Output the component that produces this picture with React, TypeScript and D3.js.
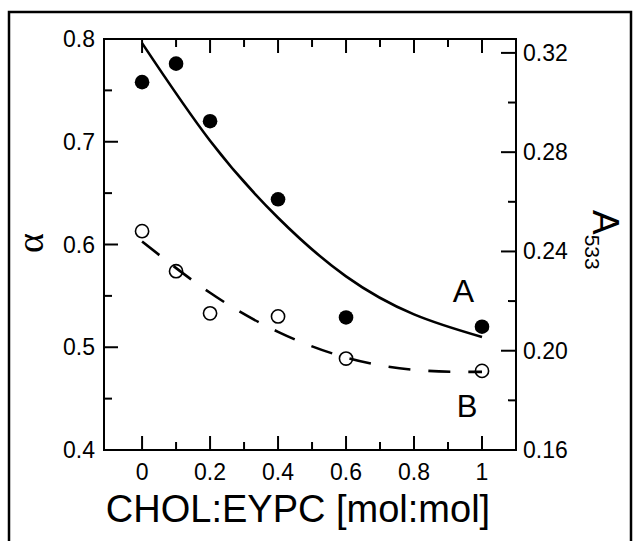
import React from "react";
import * as d3 from "d3";

// Measured data (CHOL:EYPC mol ratio)
const xValues = [0, 0.1, 0.2, 0.4, 0.6, 1.0];
const alphaA = [0.758, 0.776, 0.72, 0.644, 0.529, 0.52];
const alphaB = [0.613, 0.574, 0.533, 0.53, 0.489, 0.477];

// Fitted curves
const fitX = [0, 0.2, 0.4, 0.6, 0.8, 1.0];
const fitA = [0.796, 0.701, 0.626, 0.569, 0.532, 0.51];
const fitB = [0.603, 0.553, 0.515, 0.49, 0.478, 0.476];

const xTicksMajor = [0, 0.2, 0.4, 0.6, 0.8, 1];
const xTickLabels = ["0", "0.2", "0.4", "0.6", "0.8", "1"];
const xTicksMinor = [0.1, 0.3, 0.5, 0.7, 0.9];
const yLeftMajor = [0.4, 0.5, 0.6, 0.7, 0.8];
const yLeftLabels = ["0.4", "0.5", "0.6", "0.7", "0.8"];
const yLeftMinor = [0.45, 0.55, 0.65, 0.75];
const yRightMajor = [0.16, 0.2, 0.24, 0.28, 0.32];
const yRightLabels = ["0.16", "0.20", "0.24", "0.28", "0.32"];
const yRightMinor = [0.18, 0.22, 0.26, 0.3];

const W = 634;
const H = 541;
const L = 104, R = 516, T = 39, B = 450;

export default function App() {
  const x = d3.scaleLinear().domain([-0.112, 1.1]).range([L, R]);
  const yL = d3.scaleLinear().domain([0.4, 0.8]).range([B, T]);
  const yR = d3.scaleLinear().domain([0.16, 0.3256]).range([B, T]);

  const line = d3
    .line<[number, number]>()
    .x((d) => x(d[0]))
    .y((d) => yL(d[1]))
    .curve(d3.curveNatural);

  const lineA = line(fitX.map((v, i) => [v, fitA[i]] as [number, number])) || "";
  const lineB = line(fitX.map((v, i) => [v, fitB[i]] as [number, number])) || "";

  const font = "'Liberation Sans', Arial, Helvetica, sans-serif";
  const sw = 2;

  return (
    <svg
      width={W}
      height={H}
      style={{ position: "absolute", left: 0, top: 0, background: "#fff" }}
      fontFamily={font}
    >
      <rect x={0} y={0} width={W} height={H} fill="#fff" />
      {/* outer frame */}
      <rect x={9} y={12} width={622} height={560} fill="none" stroke="#000" strokeWidth={2.5} />

      {/* plot box */}
      <rect x={L} y={T} width={R - L} height={B - T} fill="none" stroke="#000" strokeWidth={sw} />

      {/* x ticks bottom & top */}
      {xTicksMajor.map((v) => (
        <g key={"xm" + v}>
          <line x1={x(v)} x2={x(v)} y1={B} y2={B - 14} stroke="#000" strokeWidth={sw} />
          <line x1={x(v)} x2={x(v)} y1={T} y2={T + 14} stroke="#000" strokeWidth={sw} />
        </g>
      ))}
      {xTicksMinor.map((v) => (
        <g key={"xn" + v}>
          <line x1={x(v)} x2={x(v)} y1={B} y2={B - 8} stroke="#000" strokeWidth={sw} />
          <line x1={x(v)} x2={x(v)} y1={T} y2={T + 8} stroke="#000" strokeWidth={sw} />
        </g>
      ))}
      {xTicksMajor.map((v, i) => (
        <text key={"xl" + v} x={x(v)} y={479.5} fontSize={23} textAnchor="middle">
          {xTickLabels[i]}
        </text>
      ))}

      {/* left axis ticks */}
      {yLeftMajor.map((v, i) => (
        <g key={"yl" + v}>
          <line x1={L} x2={L + 14} y1={yL(v)} y2={yL(v)} stroke="#000" strokeWidth={sw} />
          <text x={95} y={yL(v)} dy="0.35em" fontSize={23} textAnchor="end">
            {yLeftLabels[i]}
          </text>
        </g>
      ))}
      {yLeftMinor.map((v) => (
        <line key={"yln" + v} x1={L} x2={L + 8} y1={yL(v)} y2={yL(v)} stroke="#000" strokeWidth={sw} />
      ))}

      {/* right axis ticks */}
      {yRightMajor.map((v, i) => (
        <g key={"yr" + v}>
          <line x1={R} x2={R - 15} y1={yR(v)} y2={yR(v)} stroke="#000" strokeWidth={sw} />
          <text x={523} y={yR(v)} dy="0.35em" fontSize={23} textAnchor="start">
            {yRightLabels[i]}
          </text>
        </g>
      ))}
      {yRightMinor.map((v) => (
        <line key={"yrn" + v} x1={R} x2={R - 8} y1={yR(v)} y2={yR(v)} stroke="#000" strokeWidth={sw} />
      ))}

      {/* data points */}
      {xValues.map((v, i) => (
        <circle key={"a" + i} cx={x(v)} cy={yL(alphaA[i])} r={7.3} fill="#000" />
      ))}
      {xValues.map((v, i) => (
        <circle key={"b" + i} cx={x(v)} cy={yL(alphaB[i])} r={6.6} fill="#fff" stroke="#000" strokeWidth={1.6} />
      ))}

      {/* fitted curves */}
      <path d={lineA} fill="none" stroke="#000" strokeWidth={2.6} />
      <path d={lineB} fill="none" stroke="#000" strokeWidth={2.6} strokeDasharray="22,18" />

      {/* curve labels */}
      <text x={463.5} y={302} fontSize={32} textAnchor="middle">A</text>
      <text x={467} y={417} fontSize={31} textAnchor="middle">B</text>

      {/* axis titles */}
      <text x={298} y={522} fontSize={38} textAnchor="middle">
        CHOL:EYPC [mol:mol]
      </text>
      <text
        transform="translate(43,243) rotate(-90)"
        fontSize={38}
        textAnchor="middle"
        fontFamily="'Liberation Serif', 'Times New Roman', serif"
      >
        α
      </text>
      <text transform="translate(593,210) rotate(90)" fontSize={37}>
        A
        <tspan fontSize={21} dy={8}>533</tspan>
      </text>
    </svg>
  );
}
